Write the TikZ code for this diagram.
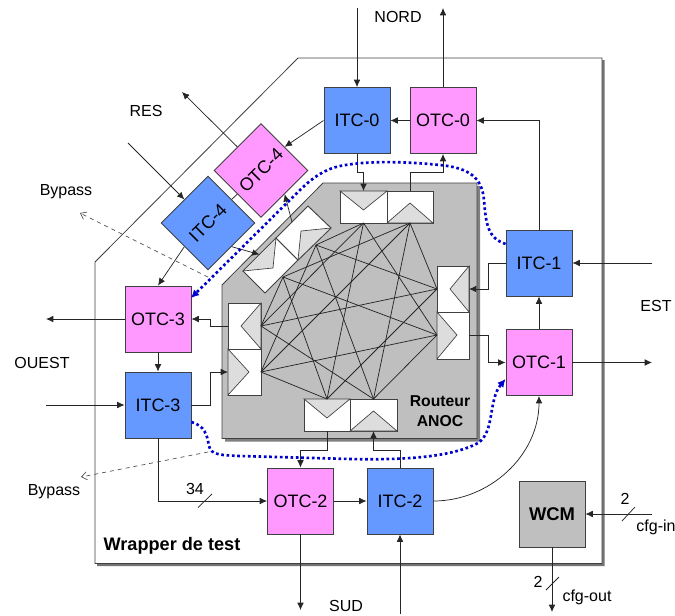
\documentclass[tikz,border=0pt]{standalone}
\usepackage{fontspec}
\setmainfont{Liberation Sans}
\usepackage{xcolor}
\usetikzlibrary{arrows.meta,calc}
\definecolor{itcblue}{HTML}{6699FF}
\definecolor{otcpink}{HTML}{FF99FF}
\definecolor{routergray}{HTML}{BFBFBF}
\definecolor{portgray}{HTML}{DDDDDD}
\definecolor{edgegray}{HTML}{404040}
\definecolor{bypassblue}{HTML}{0000CC}

\begin{document}
\begin{tikzpicture}[
            x=0.75pt,y=-0.75pt,
            every node/.style={font=\fontsize{12}{14}\selectfont,inner sep=0pt},
            block/.style={draw=edgegray,line width=0.7pt,minimum size=49.5pt,font=\fontsize{13.5}{16}\selectfont},
            itcbox/.style={block,fill=itcblue},
            otcbox/.style={block,fill=otcpink},
            wcmbox/.style={block,fill=routergray,font=\fontsize{13.8}{16}\selectfont\bfseries},
            port/.style={fill=white,draw=edgegray,line width=0.7pt},
            portflap/.style={fill=portgray,draw=edgegray,line width=0.5pt},
            link/.style={black!85,line width=0.55pt},
            wire/.style={link,-{Latex[length=5.5pt,width=5pt]}},
            bypass/.style={black!70,line width=0.5pt,dashed,-{Straight Barb[length=4pt,width=6pt]}},
            dots/.style={bypassblue,line width=2pt,dash pattern=on 2pt off 2pt,-{Latex[length=6pt,width=6pt]}},
            mesh/.style={black!85,line width=0.55pt},
        ]
          \useasboundingbox (0,0) rectangle (675,615);

          % Wrapper and router outlines, each with its shadow.
          \fill[black!55] (97,264) -- (300,60) -- (604.5,60) -- (604.5,566) -- (97,566) -- cycle;
          \draw[fill=white,line width=0.6pt,draw=edgegray] (95,262) -- (298,58) -- (602,58) -- (602,563.5) -- (95,563.5) -- cycle;
          \fill[black!50] (225,288) -- (326,186) -- (480,186) -- (480,441.5) -- (225,441.5) -- cycle;
          \draw[fill=routergray,line width=0.6pt,draw=edgegray] (222,285) -- (323,183) -- (477,183) -- (477,438.5) -- (222,438.5) -- cycle;

          % Ports of the router.
          \draw[port] (340,191) rectangle (387,223);
          \draw[port] (387,191) rectangle (433,223);
          \draw[portflap] (340,191) -- (387,191) -- (363.5,210) -- cycle;
          \draw[portflap] (387,223) -- (433,223) -- (410,203) -- cycle;

          \draw[port] (437,266) rectangle (469,312);
          \draw[port] (437,312) rectangle (469,359);
          \draw[portflap] (469,266) -- (469,312) -- (450,289) -- cycle;
          \draw[portflap] (437,312) -- (437,359) -- (457,335) -- cycle;

          \draw[port] (304,399) rectangle (350,431);
          \draw[port] (350,399) rectangle (397,431);
          \draw[portflap] (304,399) -- (350,399) -- (327,418) -- cycle;
          \draw[portflap] (350,431) -- (397,431) -- (373.5,411) -- cycle;

          \draw[port] (228,303) rectangle (261,349);
          \draw[port] (228,349) rectangle (261,395);
          \draw[portflap] (261,303) -- (261,349) -- (241,326) -- cycle;
          \draw[portflap] (228,349) -- (228,395) -- (249,372) -- cycle;

          \draw[port] (243,271) -- (276,238) -- (298,260) -- (265,293) -- cycle;
          \draw[port] (276,238) -- (308,206) -- (331,228) -- (298,260) -- cycle;
          \draw[portflap] (243,271) -- (276,238) -- (273,268) -- cycle;
          \draw[portflap] (298,260) -- (331,228) -- (301,231) -- cycle;

          \coordinate (pa) at (363.5,223);
          \coordinate (pb) at (410,223);
          \coordinate (pc) at (437,289);
          \coordinate (pd) at (437,335);
          \coordinate (pe) at (327,399);
          \coordinate (pf) at (373.5,399);
          \coordinate (pg) at (261,326);
          \coordinate (ph) at (261,372);
          \coordinate (pi) at (283,277);
          \coordinate (pj) at (316,245);

          \foreach \from/\targets in {pa/{pd,pe,pg,pj},pc/{pb,pe,pg,pj},pf/{pb,pd,pg,pj},ph/{pb,pd,pe,pj},pi/{pb,pd,pe,pg}} {
            \foreach \to in \targets {
              \draw[mesh] (\from) -- (\to);
            }
          }

          % Test collars.
          \node[itcbox] (itc0) at (357,120.5) {ITC-0};
          \node[otcbox] (otc0) at (443,120.5) {OTC-0};
          \node[itcbox] (itc1) at (539,263) {ITC-1};
          \node[otcbox] (otc1) at (539,362.5) {OTC-1};
          \node[otcbox] (otc2) at (300.5,501) {OTC-2};
          \node[itcbox] (itc2) at (400,501) {ITC-2};
          \node[otcbox] (otc3) at (158,319) {OTC-3};
          \node[itcbox] (itc3) at (158,405) {ITC-3};
          \node[otcbox,rotate=45] (otc4) at (261,170.5) {OTC-4};
          \node[itcbox,rotate=45] (itc4) at (208,223) {ITC-4};
          \node[wcmbox] (wcm) at (552,514) {WCM};

          % Free ends.
          \coordinate (nordin) at (357,8);
          \coordinate (nordout) at (443,8);
          \coordinate (estin) at (652,263);
          \coordinate (estout) at (652,362.5);
          \coordinate (sudin) at (400,614);
          \coordinate (sudout) at (300.5,610);
          \coordinate (ouestin) at (46,405);
          \coordinate (ouestout) at (46,319);
          \coordinate (resin) at (128,143);
          \coordinate (resout) at (182,92);
          \coordinate (cfgin) at (652,514);
          \coordinate (cfgout) at (552,612);
          \coordinate (bypassa) at (208,277);
          \coordinate (bypassaend) at (80,213);
          \coordinate (bypassb) at (208,452);
          \coordinate (bypassbend) at (81,477);

          \draw[wire] (nordin) -- (itc0.north);
          \draw[wire] (otc0.north) -- (nordout);
          \draw[wire] (otc0.west) -- (itc0.east);
          \draw[wire] (itc0.west) -- (otc4.east);
          \draw[wire] (otc4.north) -- (resout);
          \draw[wire] (resin) -- (itc4.north);
          \draw[link] (otc4.west) -- (itc4.east);
          \draw[wire] (itc4.west) -- (otc3.north);
          \draw[wire] (itc4.south) -- (259.5,254.5);
          \draw[wire] (292,222) -- (otc4.south);
          \draw[wire] (otc3.west) -- (ouestout);
          \draw[wire] (otc3.south) -- (itc3.north);
          \draw[wire] (ouestin) -- (itc3.west);
          \draw[wire] (228,326) -- (210,326) |- (otc3.east);
          \draw[wire] (itc3.east) -- (210,405) |- (228,372);
          \draw[wire] (itc3.south) |- (otc2.west);
          \draw[wire] (327,431) -- (327,450) -| (otc2.north);
          \draw[wire] (otc2.east) -- (itc2.west);
          \draw[wire] (otc2.south) -- (sudout);
          \draw[wire] (sudin) -- (itc2.south);
          \draw[wire] (itc2.north) -- (400,450) -| (373.5,431);
          \draw[wire] (itc2.east) .. controls (490,501) and (539,455) .. (otc1.south);
          \draw[wire] (otc1.north) -- (itc1.south);
          \draw[wire] (otc1.east) -- (estout);
          \draw[wire] (estin) -- (itc1.east);
          \draw[wire] (469,335) -- (488,335) |- (otc1.west);
          \draw[wire] (itc1.west) -- (488,263) |- (469,289);
          \draw[wire] (itc1.north) |- (otc0.east);
          \draw[wire] (itc0.south) -- (357,172) -| (363.5,191);
          \draw[wire] (410,191) -- (410,172) -| (otc0.south);
          \draw[wire] (cfgin) -- (wcm.east);
          \draw[wire] (wcm.south) -- (cfgout);

          % Bus ticks.
          \draw[link] (198,507.5) -- (212,494);
          \draw[link] (622,521) -- (635,507);
          \draw[link] (546,590) -- (559,577);

          % Bypass paths.
          \draw[bypass] (bypassa) -- (bypassaend);
          \draw[bypass] (bypassb) -- (bypassbend);
          \draw[dots] (itc1.west |- 0,244) .. controls (488,238) and (486,225) .. (484,200)
            .. controls (482,178) and (470,168) .. (440,165)
            .. controls (410,162) and (370,160) .. (340,166)
            .. controls (325,169) and (312,178) .. (300,190) -- (191,298);
          \draw[dots] (itc3.east |- 0,422) .. controls (205,426) and (207,435) .. (209,446)
            .. controls (211,455) and (220,455) .. (240,456) -- (350,459)
            .. controls (400,460) and (450,458) .. (478,443)
            .. controls (495,432) and (488,400) .. (otc1.west |- 0,379);

          % Labels.
          \node (lblnord) at (398,17) {NORD};
          \node (lblres) at (146,111) {RES};
          \node (lblest) at (656,306) {EST};
          \node (lblouest) at (42,363) {OUEST};
          \node (lblsud) at (346,606) {SUD};
          \node (lblbypassa) at (66,192) {Bypass};
          \node (lblbypassb) at (54,492) {Bypass};
          \node (lblbus) at (195,489) {34};
          \node (lblwcmin) at (625,499) {2};
          \node (lblwcmout) at (538,582) {2};
          \node (lblcfgin) at (656,527) {cfg-in};
          \node (lblcfgout) at (587,597) {cfg-out};
          \node[align=center,font=\fontsize{11.8}{15}\selectfont\bfseries] (lblrouter) at (440,411) {Routeur\\ANOC};
          \node[font=\fontsize{13.6}{16}\selectfont\bfseries] (lblwrapper) at (172,546) {Wrapper de test};
        \end{tikzpicture}
\end{document}
